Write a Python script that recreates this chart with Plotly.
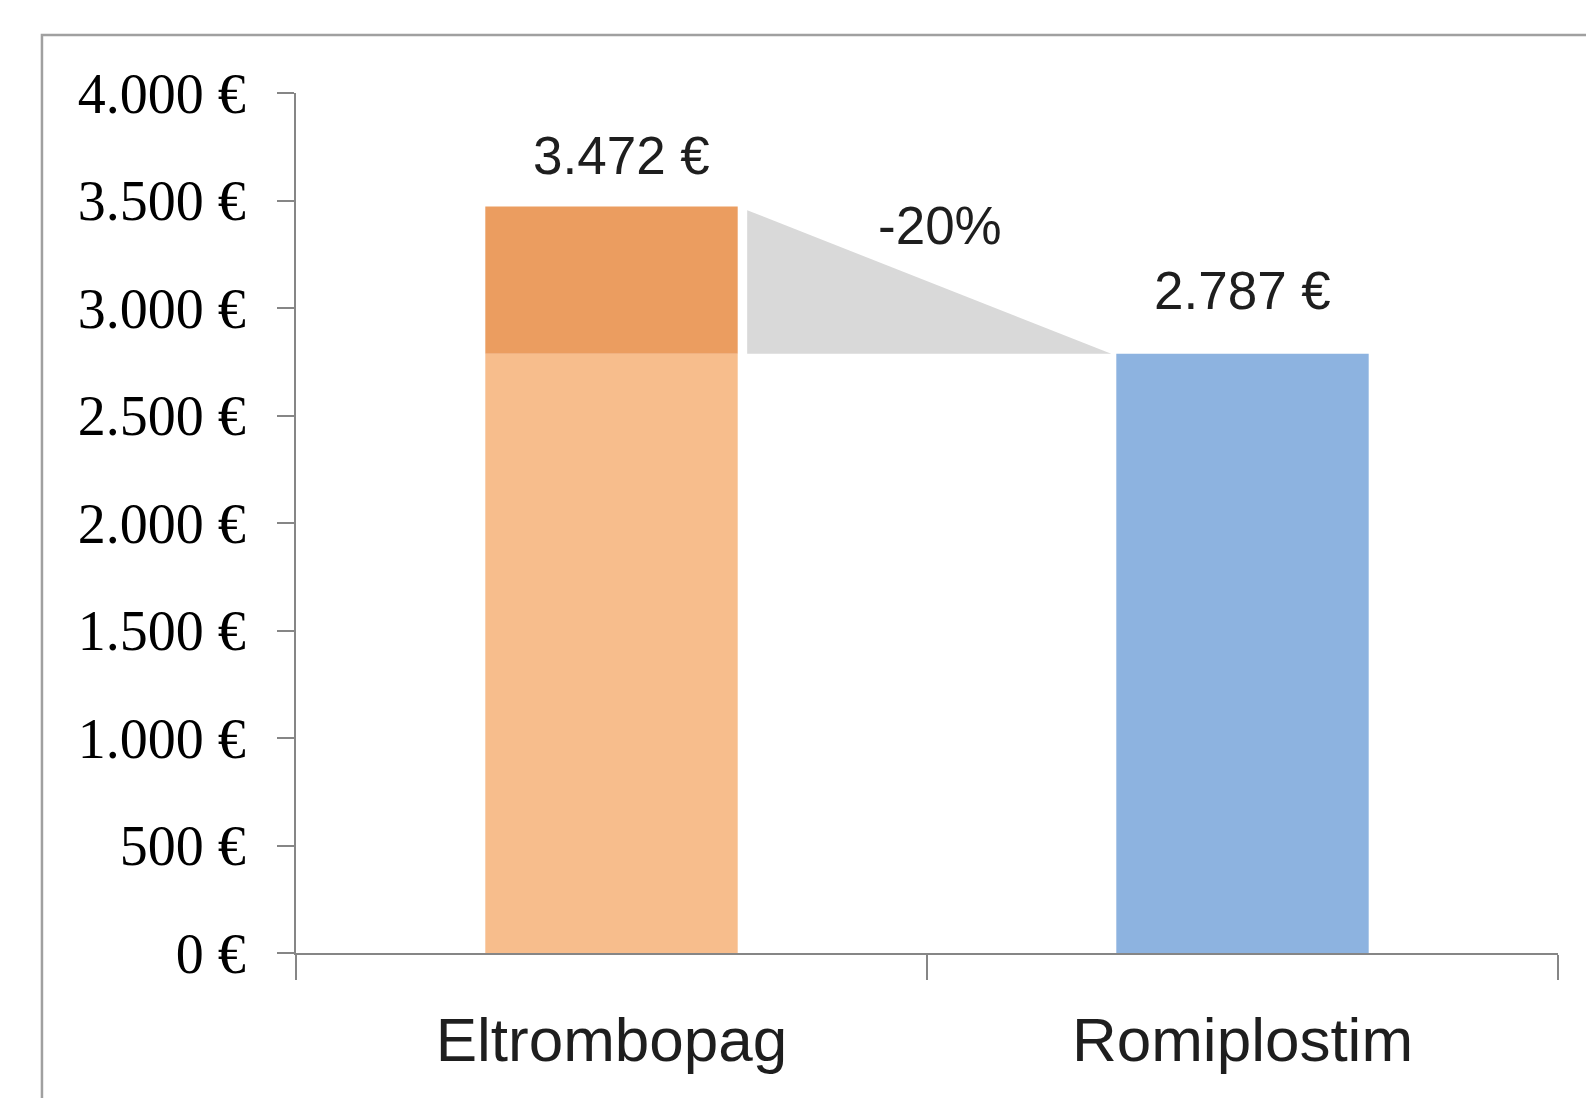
import plotly.graph_objects as go

# ---- data -------------------------------------------------------------
categories = ["Eltrombopag", "Romiplostim"]
costs = [3472, 2787]                      # cost per drug (€)
y_tick_values = [0, 500, 1000, 1500, 2000, 2500, 3000, 3500, 4000]
y_tick_labels = ["0 €", "500 €", "1.000 €", "1.500 €", "2.000 €",
                 "2.500 €", "3.000 €", "3.500 €", "4.000 €"]

# ---- derived values ---------------------------------------------------
def euro(v):
    return f"{v:,}".replace(",", ".") + " €"

pct_change = round((costs[1] / costs[0] - 1) * 100)
pct_label = f"{pct_change}%"
base_cost = min(costs)
extra_cost = costs[0] - base_cost

# ---- styling ----------------------------------------------------------
LIGHT_ORANGE = "#F7BD8C"
DARK_ORANGE = "#EB9D60"
BLUE = "#8DB3E0"
GREY_FILL = "#D9D9D9"
AXIS = "#868686"
TEXT = "#1E1E1E"
BAR_W = 0.4

x_pos = list(range(len(categories)))

fig = go.Figure()

# lower (shared) part of the Eltrombopag bar
fig.add_trace(go.Bar(x=[x_pos[0]], y=[base_cost], width=BAR_W,
                     marker=dict(color=LIGHT_ORANGE, line=dict(width=0)),
                     hoverinfo="skip"))
# additional cost on top of it
fig.add_trace(go.Bar(x=[x_pos[0]], y=[extra_cost], base=[base_cost], width=BAR_W,
                     marker=dict(color=DARK_ORANGE, line=dict(width=0)),
                     hoverinfo="skip"))
# Romiplostim bar
fig.add_trace(go.Bar(x=[x_pos[1]], y=[costs[1]], width=BAR_W,
                     marker=dict(color=BLUE, line=dict(width=0)),
                     hoverinfo="skip"))

# grey wedge showing the drop from one bar to the next
left_edge = x_pos[0] + BAR_W / 2
right_edge = x_pos[1] - BAR_W / 2
gap_l, gap_r = 0.015, 0.008
xa, xb = left_edge + gap_l, right_edge - gap_r
slope = (costs[1] - costs[0]) / (right_edge - left_edge)
ya = costs[0] + slope * gap_l
fig.add_trace(go.Scatter(x=[xa, xa, xb, xa], y=[ya, costs[1], costs[1], ya],
                         mode="lines", fill="toself", fillcolor=GREY_FILL,
                         line=dict(width=0, color=GREY_FILL), hoverinfo="skip"))

# value labels above the bars
label_shift = [(10, 20), (0, 32)]
for i, v in enumerate(costs):
    fig.add_annotation(x=x_pos[i], y=v, text=euro(v), showarrow=False,
                       yanchor="bottom", xshift=label_shift[i][0],
                       yshift=label_shift[i][1],
                       font=dict(family="Liberation Sans", size=53, color=TEXT))

# percentage change label
fig.add_annotation(x=0.52, y=costs[0] - 90, text=pct_label, showarrow=False,
                   yanchor="middle",
                   font=dict(family="Liberation Sans", size=53, color=TEXT))

# outer frame of the chart
fig.add_shape(type="rect", xref="paper", yref="paper",
              x0=-0.2013, x1=1.5, y0=-0.5, y1=1.0674,
              line=dict(color="#A0A0A0", width=2.5), fillcolor="rgba(0,0,0,0)",
              layer="below")

fig.update_layout(
    width=1586, height=1098,
    margin=dict(l=296, r=28, t=93, b=145),
    paper_bgcolor="white", plot_bgcolor="white",
    showlegend=False, barmode="overlay",
    xaxis=dict(range=[-0.5, 1.5], tickmode="array", tickvals=x_pos,
               ticktext=categories, ticks="", showgrid=False, zeroline=False,
               showline=True, linecolor=AXIS, linewidth=2,
               tickfont=dict(family="Liberation Sans", size=62, color=TEXT),
               ticklabelstandoff=32,
               minor=dict(tickmode="array", tickvals=[-0.5, 0.5, 1.5],
                          ticks="outside", ticklen=25, tickwidth=2,
                          tickcolor=AXIS, showgrid=False)),
    yaxis=dict(range=[0, 4000], tickmode="array", tickvals=y_tick_values,
               ticktext=y_tick_labels, ticks="outside", ticklen=17,
               tickwidth=2, tickcolor=AXIS, showgrid=False, zeroline=False,
               showline=True, linecolor=AXIS, linewidth=2,
               ticklabelstandoff=20,
               tickfont=dict(family="Liberation Serif", size=56, color="#000000")),
)

fig.write_html("out.html")
